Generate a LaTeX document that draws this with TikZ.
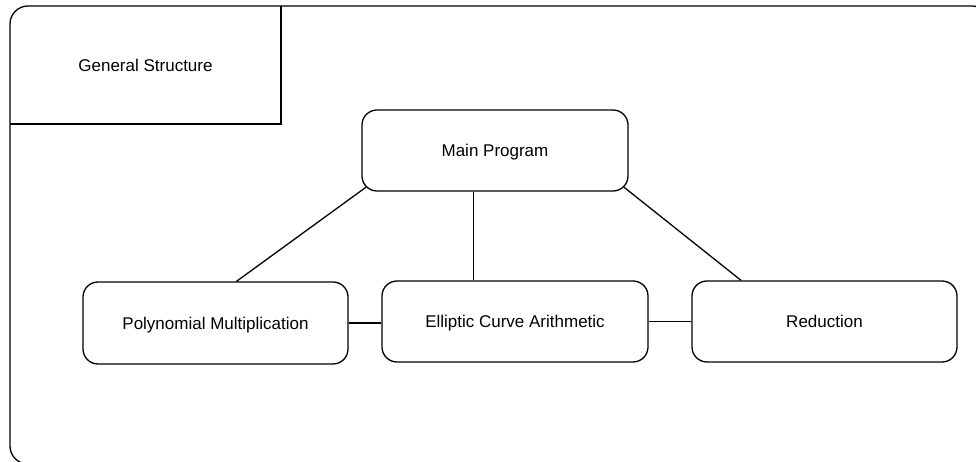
\documentclass[tikz,border=0pt]{standalone}
\usepackage{fontspec}
\setmainfont{Liberation Sans}
\usetikzlibrary{calc}
\begin{document}
\begin{tikzpicture}[x=1pt,y=-1pt,
  line width=1.3pt,
  every node/.style={font=\fontsize{17}{20}\selectfont, text height=12.2pt, text depth=0pt},
  module/.style={draw, rectangle, rounded corners=15pt, inner sep=0pt,
    minimum width=266pt, minimum height=81pt},
  link/.style={draw}]
\useasboundingbox (0,0) rectangle (976,462);
% outer frame
\draw[rounded corners=18pt] (10,6) rectangle (990,464);
% title compartment
\coordinate (tr) at (281,6);
\coordinate (bl) at (10,124);
\draw (tr) -- (tr |- bl) -- (bl);
\node (title) at (145.5,65) {General Structure};
% modules
\node[module] (main) at (495,150.5) {Main Program};
\node[module, minimum width=265pt, minimum height=82pt] (poly) at (215.5,323) {Polynomial Multiplication};
\node[module] (ell) at (515,321.5) {Elliptic Curve Arithmetic};
\node[module, minimum width=265pt] (red) at (824.5,321.5) {Reduction};
% connectors
\draw[link] ($(main.south west)+(4.6,-4.4)$) -- ($(poly.north)+(21,0)$);
\draw[link] ($(main.south)+(-21.5,0)$) coordinate (mv) -- (mv |- ell.north);
\draw[link] ($(main.south east)+(-4.6,-4.4)$) -- ($(red.north)+(-83.5,0)$);
\draw[link] (poly.east) -- (poly.east -| ell.west);
\draw[link] (ell.east) -- (red.west);
\end{tikzpicture}
\end{document}
